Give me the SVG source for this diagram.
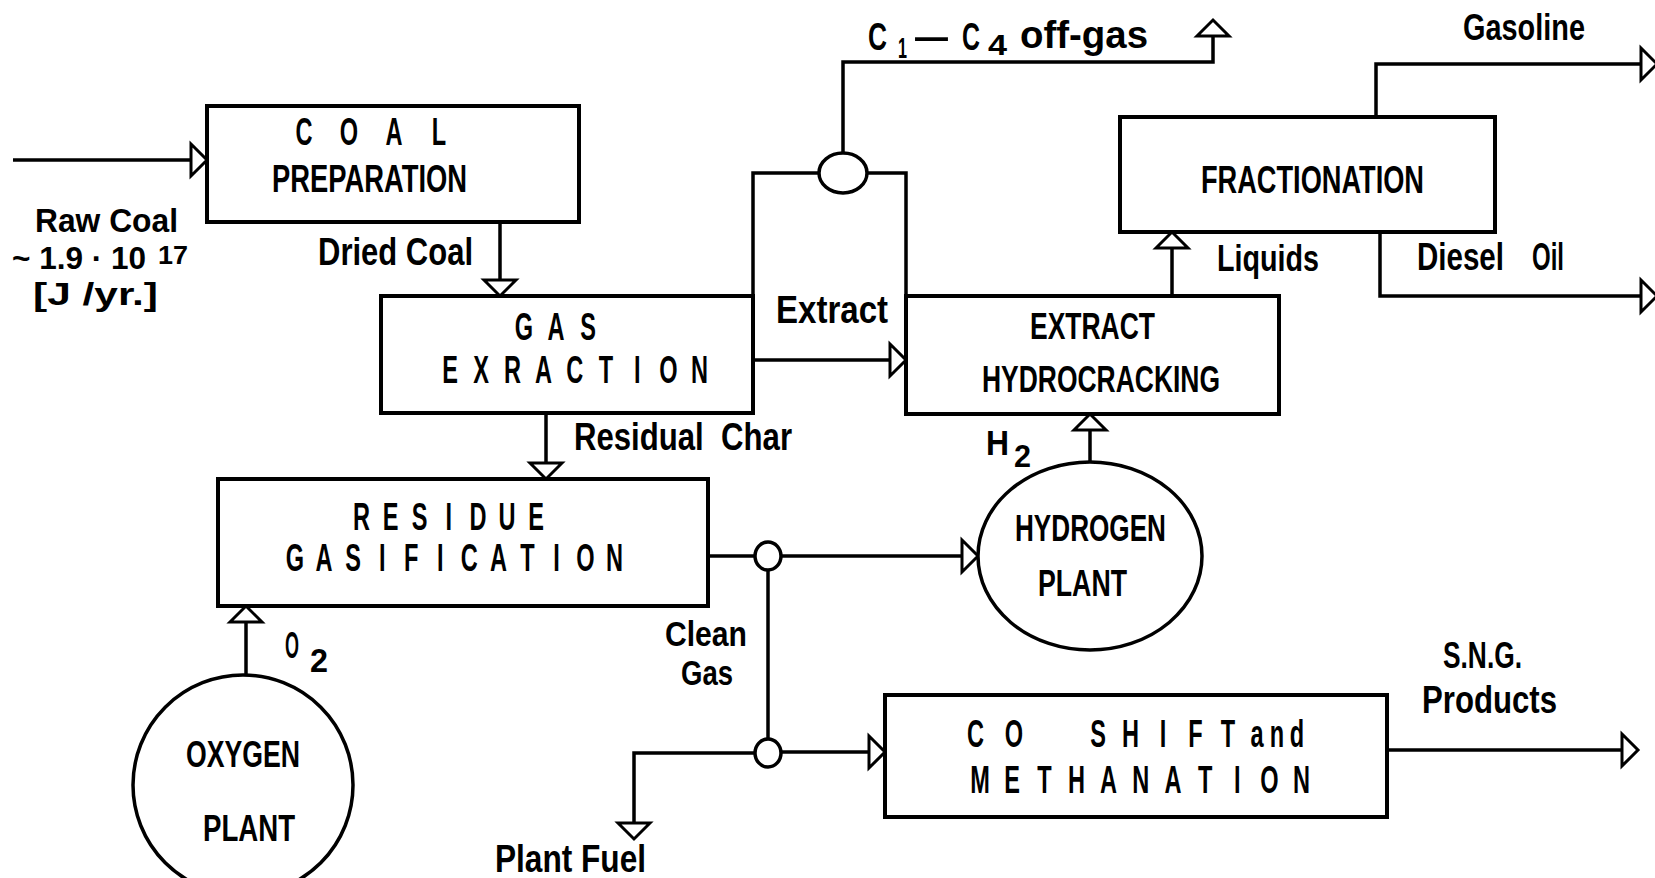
<svg xmlns="http://www.w3.org/2000/svg" width="1655" height="878" viewBox="0 0 1655 878">
<style>
.bx{fill:#fff;stroke:#000;stroke-width:4}
.nd{fill:#fff;stroke:#000;stroke-width:3.5}
.ln{fill:none;stroke:#000;stroke-width:3.5;marker-end:url(#ah)}
.ln0{fill:none;stroke:#000;stroke-width:3.5}
.t{font-family:"Liberation Sans","DejaVu Sans",Arial,sans-serif;font-weight:700;fill:#000}
.sp{text-anchor:middle}
</style>
<defs>
<marker id="ah" markerUnits="userSpaceOnUse" viewBox="-3 -20 22 40" refX="16" refY="0" markerWidth="22" markerHeight="40" orient="auto" overflow="visible">
<path d="M0,-16 L16,0 L0,16 Z" fill="#fff" stroke="#000" stroke-width="3" stroke-linejoin="miter"/>
</marker>
</defs>
<rect width="1655" height="878" fill="#fff"/>

<g id="connectors">
<path class="ln" d="M13,160 H207"/>
<path class="ln" d="M500,222 V296"/>
<path class="ln" d="M546,413 V479"/>
<path class="ln" d="M753,360 H906"/>
<path class="ln0" d="M753,296 V173 H819"/>
<path class="ln0" d="M867,173 H906 V296"/>
<path class="ln" d="M843,153 V62 H1213 V20"/>
<path class="ln" d="M1172,296 V232"/>
<path class="ln" d="M1376,117 V64 H1657"/>
<path class="ln" d="M1380,232 V296 H1657"/>
<path class="ln" d="M1090,462 V414"/>
<path class="ln0" d="M708,556 H755"/>
<path class="ln" d="M781,556 H978"/>
<path class="ln0" d="M768,570 V739"/>
<path class="ln" d="M755,753 H634 V839"/>
<path class="ln" d="M781,752 H885"/>
<path class="ln" d="M1387,750 H1638"/>
<path class="ln" d="M246,675 V606"/>
</g>

<g id="coal-preparation">
<rect class="bx" x="207" y="106" width="372" height="116"/>
<text class="t sp" transform="scale(0.62,1)" x="490.3 526.6 562.9 599.2 635.5 671.8 708.1" y="145" font-size="38">C O A L</text>
<text class="t" x="272" y="192" font-size="38" textLength="195" lengthAdjust="spacingAndGlyphs">PREPARATION</text>
</g>

<g id="gas-extraction">
<rect class="bx" x="381" y="296" width="372" height="117"/>
<text class="t sp" transform="scale(0.62,1)" x="845.2 871.0 896.8 922.6 948.4" y="340" font-size="38">G A S</text>
<text class="t sp" transform="scale(0.62,1)" x="725.8 751.0 776.1 801.3 826.5 851.6 876.8 901.9 927.1 952.3 977.4 1002.6 1027.7 1052.9 1078.1 1103.2 1128.4" y="383" font-size="38">E X R A C T I O N</text>
</g>

<g id="extract-hydrocracking">
<rect class="bx" x="906" y="296" width="373" height="118"/>
<text class="t" x="1030" y="339" font-size="37" textLength="125" lengthAdjust="spacingAndGlyphs">EXTRACT</text>
<text class="t" x="982" y="392" font-size="37" textLength="238" lengthAdjust="spacingAndGlyphs">HYDROCRACKING</text>
</g>

<g id="fractionation">
<rect class="bx" x="1120" y="117" width="375" height="115"/>
<text class="t" x="1201" y="193" font-size="38" textLength="223" lengthAdjust="spacingAndGlyphs">FRACTIONATION</text>
</g>

<g id="residue-gasification">
<rect class="bx" x="218" y="479" width="490" height="127"/>
<text class="t sp" transform="scale(0.62,1)" x="583.1 606.5 630.0 653.5 676.9 700.4 723.9 747.3 770.8 794.3 817.7 841.2 864.5" y="530" font-size="38">R E S I D U E</text>
<text class="t sp" transform="scale(0.62,1)" x="475.8 499.2 522.7 546.1 569.5 592.9 616.5 639.8 663.2 686.6 710.2 733.5 756.9 780.3 803.9 827.3 850.6 874.0 897.6 921.0 944.4 967.7 991.1" y="571" font-size="38">G A S I F I C A T I O N</text>
</g>

<g id="co-shift-methanation">
<rect class="bx" x="885" y="695" width="502" height="122"/>
<text class="t sp" transform="scale(0.62,1)" x="1573.4 1604.8 1635.5 1703.2 1771.0 1796.8 1823.4 1850.0 1875.8 1901.6 1928.2 1954.8 1980.6 2003.2 2027.4 2059.7 2091.9" y="747" font-size="38">C O S H I F T and</text>
<text class="t sp" transform="scale(0.62,1)" x="1580.6 1606.6 1632.6 1658.4 1684.4 1710.3 1736.3 1762.1 1788.1 1814.0 1840.0 1865.8 1891.8 1917.7 1943.7 1969.5 1995.5 2021.5 2047.4 2073.2 2099.2" y="793" font-size="38">M E T H A N A T I O N</text>
</g>

<g id="hydrogen-plant">
<ellipse class="nd" cx="1090" cy="556" rx="112" ry="94" stroke-width="3"/>
<text class="t" x="1015" y="541" font-size="37" textLength="151" lengthAdjust="spacingAndGlyphs">HYDROGEN</text>
<text class="t" x="1038" y="596" font-size="37" textLength="89" lengthAdjust="spacingAndGlyphs">PLANT</text>
</g>

<g id="oxygen-plant">
<circle class="nd" cx="243" cy="785" r="110"/>
<text class="t" x="186" y="767" font-size="37" textLength="114" lengthAdjust="spacingAndGlyphs">OXYGEN</text>
<text class="t" x="203" y="841" font-size="37" textLength="92" lengthAdjust="spacingAndGlyphs">PLANT</text>
</g>

<g id="separator">
<ellipse class="nd" cx="843" cy="173" rx="24" ry="20"/>
</g>
<g id="junction-1">
<ellipse class="nd" cx="768" cy="556" rx="13" ry="14"/>
</g>
<g id="junction-2">
<ellipse class="nd" cx="768" cy="753" rx="13" ry="14"/>
</g>

<g id="labels">
<text class="t" x="35" y="232" font-size="33" textLength="143" lengthAdjust="spacingAndGlyphs">Raw Coal</text>
<text class="t" x="12" y="269" font-size="31" textLength="134" lengthAdjust="spacingAndGlyphs">~ 1.9 · 10</text>
<text class="t" x="158" y="264" font-size="26" textLength="30" lengthAdjust="spacingAndGlyphs">17</text>
<text class="t" x="33" y="305" font-size="31" textLength="125" lengthAdjust="spacingAndGlyphs">[J /yr.]</text>
<text class="t" x="318" y="265" font-size="38" textLength="155" lengthAdjust="spacingAndGlyphs">Dried Coal</text>
<text class="t" x="776" y="323" font-size="38" textLength="112" lengthAdjust="spacingAndGlyphs">Extract</text>
<text class="t" x="574" y="450" font-size="38" textLength="218" lengthAdjust="spacingAndGlyphs" style="white-space:pre">Residual  Char</text>
<text class="t" x="868" y="50" font-size="38" textLength="19" lengthAdjust="spacingAndGlyphs">C</text>
<text class="t" x="898" y="58" font-size="30" textLength="9" lengthAdjust="spacingAndGlyphs">1</text>
<text class="t" x="913" y="50" font-size="38" textLength="37" lengthAdjust="spacingAndGlyphs">–</text>
<text class="t" x="962" y="50" font-size="38" textLength="18" lengthAdjust="spacingAndGlyphs">C</text>
<text class="t" x="988" y="55" font-size="30" textLength="19" lengthAdjust="spacingAndGlyphs">4</text>
<text class="t" x="1020" y="48" font-size="38" textLength="128" lengthAdjust="spacingAndGlyphs">off-gas</text>
<text class="t" x="1463" y="40" font-size="37" textLength="122" lengthAdjust="spacingAndGlyphs">Gasoline</text>
<text class="t" x="1217" y="271" font-size="36" textLength="102" lengthAdjust="spacingAndGlyphs">Liquids</text>
<text class="t" x="1417" y="270" font-size="38" textLength="87" lengthAdjust="spacingAndGlyphs">Diesel</text>
<text class="t" x="1532" y="270" font-size="38" textLength="32" lengthAdjust="spacingAndGlyphs">Oil</text>
<text class="t" x="986" y="455" font-size="35" textLength="23" lengthAdjust="spacingAndGlyphs">H</text>
<text class="t" x="1014" y="467" font-size="32" textLength="17" lengthAdjust="spacingAndGlyphs">2</text>
<text class="t" x="665" y="646" font-size="35" textLength="82" lengthAdjust="spacingAndGlyphs">Clean</text>
<text class="t" x="681" y="685" font-size="35" textLength="52" lengthAdjust="spacingAndGlyphs">Gas</text>
<text class="t" x="285" y="658" font-size="36" textLength="14" lengthAdjust="spacingAndGlyphs">O</text>
<text class="t" x="310" y="672" font-size="34" textLength="18" lengthAdjust="spacingAndGlyphs">2</text>
<text class="t" x="1443" y="668" font-size="36" textLength="79" lengthAdjust="spacingAndGlyphs">S.N.G.</text>
<text class="t" x="1422" y="713" font-size="38" textLength="135" lengthAdjust="spacingAndGlyphs">Products</text>
<text class="t" x="495" y="872" font-size="38" textLength="151" lengthAdjust="spacingAndGlyphs">Plant Fuel</text>
</g>
</svg>
